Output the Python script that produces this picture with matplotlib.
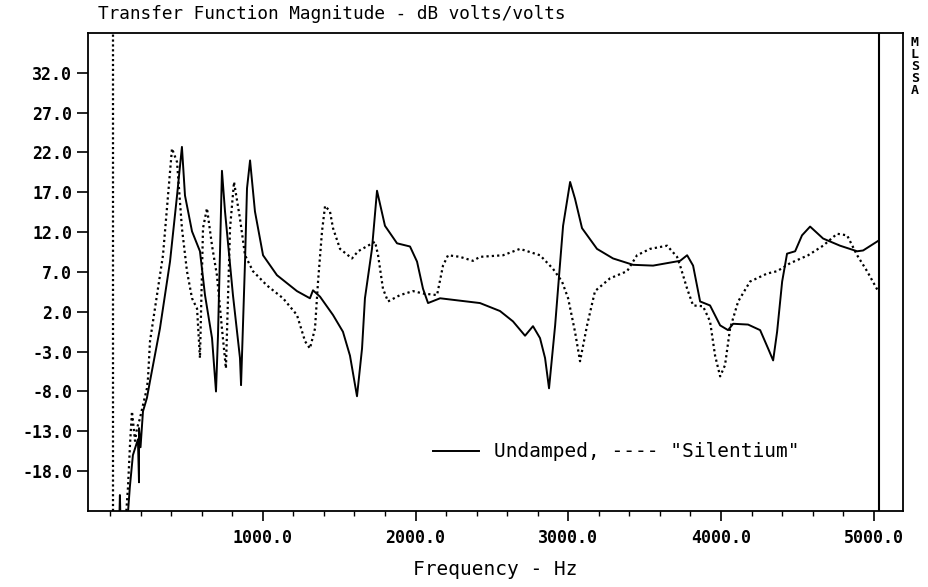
import matplotlib.pyplot as plt
from matplotlib.lines import Line2D
from matplotlib.ticker import MultipleLocator, FixedLocator

# Undamped (solid) - frequency in Hz, magnitude in dB
undamped_f = [60, 65, 70, 111, 130, 150, 183, 190, 190, 200, 216, 242, 262,
              327, 393, 439, 471, 491, 537, 589, 622, 668, 694, 707, 733, 753,
              805, 851, 858, 884, 897, 917, 949, 1002, 1093, 1224, 1309, 1329,
              1375, 1460, 1525, 1571, 1617, 1650, 1669, 1715, 1748, 1800, 1879,
              1964, 2010, 2049, 2082, 2161, 2291, 2422, 2553, 2638, 2717, 2769,
              2815, 2848, 2874, 2914, 2940, 2966, 3012, 3044, 3090, 3188, 3293,
              3424, 3555, 3732, 3778, 3817, 3863, 3928, 3994, 4046, 4079, 4177,
              4256, 4308, 4341, 4367, 4400, 4432, 4485, 4530, 4583, 4668, 4779,
              4891, 4930, 5028]
undamped_db = [-25, -21, -25, -25, -20, -16, -14, -19.4, -12.6, -15, -10.5, -8.8, -6.7,
               -0.1, 8.3, 16.6, 22.7, 16.6, 12.1, 9.6, 4.1, -1.3, -8.0, -1.0, 19.7, 14.6,
               4.1, -3.8, -7.2, 8.3, 17.5, 21.0, 14.6, 9.1, 6.6, 4.6, 3.7, 4.7,
               3.9, 1.6, -0.5, -3.5, -8.6, -2.6, 3.7, 9.9, 17.2, 12.8, 10.6,
               10.2, 8.3, 4.9, 3.1, 3.7, 3.4, 3.1, 2.1, 0.8, -1.0, 0.2,
               -1.3, -3.8, -7.6, 0.3, 6.6, 12.8, 18.3, 16.2, 12.5, 9.9, 8.7,
               7.9, 7.8, 8.4, 9.1, 7.8, 3.3, 2.8, 0.3, -0.3, 0.5, 0.4,
               -0.3, -2.6, -4.1, -0.5, 5.8, 9.3, 9.6, 11.6, 12.7, 11.2, 10.3,
               9.6, 9.7, 10.9]

# "Silentium" (dotted)
silentium_f = [100, 118, 131, 144, 164, 177, 196, 216, 242, 249, 262, 347, 380,
               406, 439, 471, 504, 537, 570, 589, 609, 635, 668, 700, 733, 759,
               786, 812, 851, 884, 936, 1028, 1133, 1224, 1277, 1309, 1342, 1362,
               1388, 1408, 1440, 1460, 1506, 1584, 1624, 1735, 1755, 1787, 1820,
               1899, 1984, 2049, 2141, 2180, 2213, 2291, 2376, 2422, 2573, 2684,
               2815, 2900, 2959, 2999, 3044, 3077, 3123, 3175, 3273, 3385, 3450,
               3535, 3647, 3712, 3732, 3778, 3817, 3882, 3928, 3961, 3994, 4026,
               4059, 4112, 4190, 4301, 4367, 4452, 4570, 4668, 4760, 4825, 4891,
               4956, 5028]
silentium_db = [-25, -20, -14.7, -10.5, -14.2, -12.6, -11.4, -9.7, -7.6, -6.3, -1.7, 9.1, 16.6,
                22.5, 20.8, 12.5, 7.1, 3.7, 2.4, -3.8, 12.5, 15.0, 10.3, 6.6, -0.1, -5.1,
                12.5, 18.3, 13.7, 9.1, 7.1, 5.3, 3.7, 1.6, -1.7, -2.6, -0.1, 5.8,
                12.1, 15.3, 14.6, 12.5, 9.9, 8.7, 9.6, 10.8, 9.1, 4.9, 3.3,
                4.1, 4.6, 4.3, 4.1, 7.8, 9.1, 8.9, 8.4, 8.9, 9.1, 9.9,
                9.1, 7.4, 5.8, 3.7, -0.5, -4.2, 0.3, 4.6, 6.2, 7.1, 9.1,
                9.9, 10.3, 8.9, 7.8, 4.9, 2.8, 2.7, 0.8, -3.5, -6.1, -4.7,
                -0.1, 3.3, 5.8, 6.8, 7.1, 8.1, 9.1, 10.3, 11.8, 11.6, 9.1,
                7.1, 4.6]

cursor_a = 20     # dotted cursor
cursor_b = 5035   # solid cursor
y_ticks = [-18, -13, -8, -3, 2, 7, 12, 17, 22, 27, 32]
x_ticks = [1000, 2000, 3000, 4000, 5000]

mono = 'DejaVu Sans Mono'

fig = plt.figure(figsize=(9.29, 5.87), dpi=100)
ax = fig.add_axes([0.0947, 0.1295, 0.8773, 0.8143])

ax.plot(undamped_f, undamped_db, color='black', lw=1.4)
ax.plot(silentium_f, silentium_db, color='black', lw=1.6, linestyle=(0, (1, 1.4)))
ax.axvline(cursor_a, color='black', lw=1.6, linestyle=(0, (1, 1.2)))
ax.axvline(cursor_b, color='black', lw=1.5)

ax.set_xlim(-144, 5191)
ax.set_ylim(-23, 37)

ax.yaxis.set_major_locator(FixedLocator(y_ticks))
ax.set_yticklabels(['%.1f' % v for v in y_ticks])
ax.xaxis.set_major_locator(FixedLocator(x_ticks))
ax.set_xticklabels(['%.1f' % v for v in x_ticks])
ax.xaxis.set_minor_locator(MultipleLocator(200))

ax.tick_params(axis='y', direction='out', length=8, width=1.2, pad=3.5)
ax.tick_params(axis='x', which='major', direction='out', length=7, width=1.2, pad=6)
ax.tick_params(axis='x', which='minor', direction='out', length=3.5, width=1.0)
for lab in ax.get_xticklabels() + ax.get_yticklabels():
    lab.set_fontfamily(mono)
    lab.set_fontweight('bold')
    lab.set_fontsize(12)

for sp in ax.spines.values():
    sp.set_linewidth(1.3)

ax.set_xlabel('Frequency - Hz', fontfamily=mono, fontsize=14, labelpad=9)

fig.text(98 / 929, 1 - 14 / 587, 'Transfer Function Magnitude - dB volts/volts',
         fontfamily=mono, fontsize=12.8, va='center', ha='left')

fig.text(915 / 929, 1 - 36 / 587, '\n'.join('MLSSA'), fontfamily=mono,
         fontweight='bold', fontsize=9.5, linespacing=0.9, va='top', ha='center')

handle = Line2D([], [], color='black', lw=1.4)
ax.legend([handle], ['Undamped, ---- "Silentium"'], loc='center left',
          bbox_to_anchor=(0.423, 0.1234), frameon=False, borderpad=0,
          borderaxespad=0, handlelength=2.4, handletextpad=0.75,
          prop={'family': mono, 'size': 14})

fig.savefig('out.png', dpi=100)
